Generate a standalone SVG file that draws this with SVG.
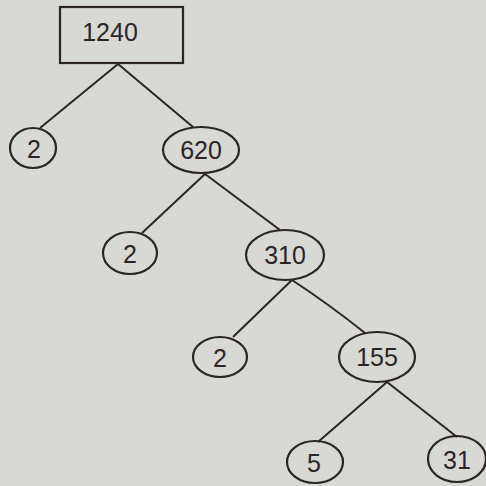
<svg xmlns="http://www.w3.org/2000/svg" width="486" height="486" viewBox="0 0 486 486">
<style>
.n{fill:none;stroke:#2b2526;stroke-width:2.2}
.t{font-family:"Liberation Sans",Arial,sans-serif;font-size:25px;fill:#2b2526;text-anchor:middle;dominant-baseline:central}
.c{stroke:#2b2526;stroke-width:2;fill:none}
</style>
<rect width="486" height="486" fill="#d8d8d4"/>
<g id="connectors">
<line class="c" x1="118" y1="64" x2="40" y2="128"/>
<line class="c" x1="118" y1="64" x2="193" y2="127"/>
<line class="c" x1="205" y1="174" x2="142" y2="233"/>
<line class="c" x1="205" y1="174" x2="280" y2="230"/>
<line class="c" x1="292" y1="280" x2="233" y2="337"/>
<path class="c" d="M292,280 Q330,305 365,333"/>
<line class="c" x1="387" y1="382" x2="318" y2="442"/>
<line class="c" x1="387" y1="382" x2="457" y2="437"/>
</g>
<g id="n1240"><rect class="n" x="60" y="7" width="123" height="56"/><text class="t" x="110" y="32">1240</text></g>
<g id="n2a"><ellipse class="n" cx="33" cy="148" rx="23" ry="20"/><text class="t" x="34" y="149">2</text></g>
<g id="n620"><ellipse class="n" cx="201" cy="150" rx="38" ry="23"/><text class="t" x="201" y="150">620</text></g>
<g id="n2b"><ellipse class="n" cx="130" cy="253" rx="27" ry="21"/><text class="t" x="130" y="254">2</text></g>
<g id="n310"><ellipse class="n" cx="285" cy="255" rx="39" ry="25"/><text class="t" x="285" y="255">310</text></g>
<g id="n2c"><ellipse class="n" cx="220" cy="357" rx="27" ry="20"/><text class="t" x="220" y="358">2</text></g>
<g id="n155"><ellipse class="n" cx="377" cy="357" rx="38" ry="25"/><text class="t" x="377" y="357">155</text></g>
<g id="n5"><ellipse class="n" cx="315" cy="462" rx="28" ry="21"/><text class="t" x="314" y="463">5</text></g>
<g id="n31"><ellipse class="n" cx="457" cy="459" rx="29" ry="23"/><text class="t" x="457" y="460">31</text></g>
</svg>
